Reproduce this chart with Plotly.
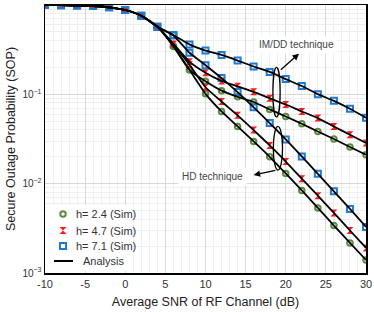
import plotly.graph_objects as go
import math

snr = [-10, -8, -6, -4, -2, 0, 2, 4, 6, 8, 10, 12, 14, 16, 18, 20, 22, 24, 26, 28, 30]

common = [0.998, 0.995, 0.987, 0.975, 0.943, 0.879, 0.759, 0.572]

imdd_h24 = common + [0.348, 0.188, 0.140, 0.110, 0.0938, 0.0820, 0.0678, 0.0565, 0.0468, 0.0384, 0.0316, 0.0257, 0.0211]
imdd_h47 = common + [0.367, 0.232, 0.174, 0.141, 0.123, 0.1067, 0.0902, 0.0769, 0.0643, 0.0542, 0.0436, 0.0353, 0.0285]
imdd_h71 = common + [0.462, 0.362, 0.309, 0.276, 0.239, 0.205, 0.178, 0.148, 0.124, 0.1005, 0.0845, 0.0689, 0.0546]

hd_h24 = common + [0.344, 0.188, 0.1013, 0.0643, 0.0437, 0.0297, 0.0200, 0.0130, 0.00841, 0.00535, 0.0034, 0.00217, 0.0014]
hd_h47 = common + [0.362, 0.214, 0.120, 0.0831, 0.0582, 0.0398, 0.0268, 0.0177, 0.01137, 0.00734, 0.00471, 0.00299, 0.00191]
hd_h71 = common + [0.456, 0.292, 0.212, 0.152, 0.106, 0.0716, 0.0477, 0.0313, 0.0202, 0.0129, 0.0082, 0.00521, 0.00328]

series_names = ["h= 2.4 (Sim)", "h= 4.7 (Sim)", "h= 7.1 (Sim)"]
line_name = "Analysis"
xtick_vals = [-10, -5, 0, 5, 10, 15, 20, 25, 30]
xtick_text = ["-10", "-5", "0", "5", "10", "15", "20", "25", "30"]
ytick_vals = [1, 0.1, 0.01, 0.001]
ytick_text = ["10<sup>0</sup>", "10<sup>\u22121</sup>", "10<sup>\u22122</sup>", "10<sup>\u22123</sup>"]

GREEN = "#5b8c3b"
RED = "#ff1a1a"
BLUE = "#1f7ad4"
styles = [
    dict(symbol="circle-open", size=5.5, color=GREEN, line=dict(width=2, color=GREEN)),
    dict(symbol="hourglass", size=7, color=RED, line=dict(width=0)),
    dict(symbol="square-open", size=6, color=BLUE, line=dict(width=2, color=BLUE)),
]

W, H = 374, 312
ML, MR, MT, MB = 45, 8, 5, 39
PW, PH = W - ML - MR, H - MT - MB
X_MIN, X_MAX = -10, 30
Y_MIN, Y_MAX = -3, 0


def px_x(px):
    """pixel x -> x data value"""
    return X_MIN + (px - ML) / PW * (X_MAX - X_MIN)


def px_logy(py_):
    """pixel y -> log10 of y value"""
    return Y_MAX - (py_ - MT) / PH * (Y_MAX - Y_MIN)


def paper_y(v):
    return (math.log10(v) - Y_MIN) / (Y_MAX - Y_MIN)


fig = go.Figure()

# ---- legend background (white box, above grid, under samples) ----
bx0, bx1 = px_x(47), px_x(132)
by0, by1 = 10 ** px_logy(205), 10 ** px_logy(271.5)
fig.add_trace(go.Scatter(x=[bx0, bx1, bx1, bx0, bx0], y=[by0, by0, by1, by1, by0], mode="lines",
                         fill="toself", fillcolor="white", line=dict(width=0, color="white"),
                         showlegend=False, hoverinfo="skip"))

imdd = [imdd_h24, imdd_h47, imdd_h71]
hd = [hd_h24, hd_h47, hd_h71]
for i in range(3):
    for data in (imdd[i], hd[i]):
        fig.add_trace(go.Scatter(x=snr, y=data, mode="markers", marker=styles[i],
                                 name=series_names[i], showlegend=False))

for data in imdd + hd:
    fig.add_trace(go.Scatter(x=snr, y=data, mode="lines",
                             line=dict(color="black", width=1.8, shape="spline", smoothing=0.5),
                             name=line_name, showlegend=False))

# ---- legend samples and labels ----
LEG_ROWS = [214, 230.5, 246, 261]
for i in range(3):
    fig.add_trace(go.Scatter(x=[px_x(63)], y=[10 ** px_logy(LEG_ROWS[i])], mode="markers",
                             marker=styles[i], showlegend=False, hoverinfo="skip"))
    fig.add_annotation(x=px_x(74), y=px_logy(LEG_ROWS[i]), xref="x", yref="y", text=series_names[i],
                       showarrow=False, xanchor="left", font=dict(size=11, color="#333"))
fig.add_trace(go.Scatter(x=[px_x(54), px_x(73)], y=[10 ** px_logy(LEG_ROWS[3])] * 2, mode="lines",
                         line=dict(color="black", width=2), showlegend=False, hoverinfo="skip"))
fig.add_annotation(x=px_x(81), y=px_logy(LEG_ROWS[3]), xref="x", yref="y", text=line_name,
                   showarrow=False, xanchor="left", font=dict(size=11, color="#333"))

# ellipses grouping the curves
fig.add_shape(type="circle", xref="x", yref="paper", x0=18.4, x1=19.3, y0=paper_y(0.2), y1=paper_y(0.056),
              line=dict(color="black", width=1.3))
fig.add_shape(type="circle", xref="x", yref="paper", x0=18.45, x1=19.6, y0=paper_y(0.0437), y1=paper_y(0.0142),
              line=dict(color="black", width=1.3))

fig.add_annotation(x=21.3, y=math.log10(0.357), xref="x", yref="y", text="IM/DD technique", showarrow=False,
                   font=dict(size=10, color="#444"), bgcolor="white", borderpad=3)
fig.add_annotation(x=10.9, y=math.log10(0.012), xref="x", yref="y", text="HD technique", showarrow=False,
                   font=dict(size=10, color="#444"), bgcolor="white", borderpad=3)
fig.add_annotation(x=21.65, y=math.log10(0.285), ax=19.2, ay=math.log10(0.182), xref="x", yref="y",
                   axref="x", ayref="y",
                   text="", showarrow=True, arrowhead=2, arrowsize=1, arrowwidth=1.3, arrowcolor="black")
fig.add_annotation(x=16.0, y=math.log10(0.0125), ax=18.9, ay=math.log10(0.0142), xref="x", yref="y",
                   axref="x", ayref="y",
                   text="", showarrow=True, arrowhead=2, arrowsize=1, arrowwidth=1.3, arrowcolor="black")

fig.update_layout(
    width=W, height=H,
    margin=dict(l=ML, r=MR, t=MT, b=MB, autoexpand=False),
    paper_bgcolor="white", plot_bgcolor="white",
    font=dict(family="Liberation Sans, Arial, sans-serif", size=11, color="#333"),
    showlegend=False,
    hovermode=False,
    xaxis=dict(
        range=[X_MIN, X_MAX], tickvals=xtick_vals, ticktext=xtick_text, automargin=False,
        showline=True, linecolor="black", linewidth=1.5, mirror=True,
        showgrid=True, gridcolor="#d9d9d9", gridwidth=1,
        minor=dict(dtick=1, showgrid=True, gridcolor="#efefef", gridwidth=1, ticks="", ticklen=0),
        zeroline=False, ticks="", ticklen=0,
        tickfont=dict(size=11, color="#333"),
        title=dict(text="Average SNR of RF Channel (dB)", font=dict(size=12.5, color="#222"), standoff=8),
    ),
    yaxis=dict(
        type="log", range=[Y_MIN, Y_MAX], automargin=False,
        tickvals=ytick_vals, ticktext=ytick_text,
        showline=True, linecolor="black", linewidth=1.5, mirror=True,
        showgrid=True, gridcolor="#d9d9d9", gridwidth=1,
        minor=dict(dtick="D1", showgrid=True, gridcolor="#efefef", gridwidth=1, ticks="", ticklen=0),
        zeroline=False, ticks="", ticklen=0,
        tickfont=dict(size=10, color="#333"),
        title=dict(text="Secure Outage Probability (SOP)", font=dict(size=12.5, color="#222"), standoff=4),
    ),
)

fig.write_html("out.html", config={"displayModeBar": False, "staticPlot": True},
               post_script="document.body.style.margin='0';document.body.style.overflow='hidden';")
